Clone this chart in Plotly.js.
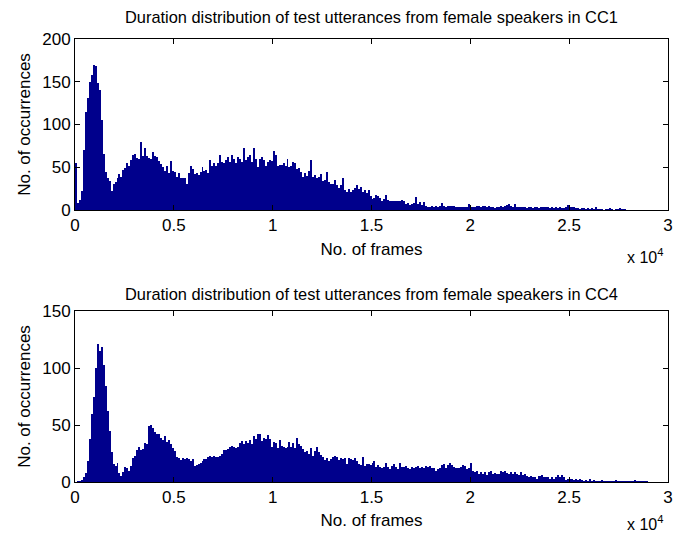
<!DOCTYPE html>
<html><head><meta charset="utf-8">
<script src="https://cdn.plot.ly/plotly-3.0.1.min.js"></script>
<style>html,body{margin:0;padding:0;background:#fff}#chart{width:675px;height:535px}</style>
</head><body><div id="chart"></div>
<script>
// Histogram bins: width 100 frames, starting at 0 frames
const binStart = 0;
const binWidth = 100;

// CC1 female test utterances: occurrences per bin
const cc1Counts = [
55,8,12,22,70,115,131,150,158,170,
168,148,140,105,66,45,37,34,22,31,
33,38,42,39,47,49,55,52,58,64,
66,61,60,80,63,73,63,61,60,68,
63,62,57,54,50,46,51,43,57,46,
45,39,43,37,38,37,31,43,51,48,
42,43,41,45,50,46,47,43,58,51,
55,51,55,64,56,55,58,62,56,64,
60,55,62,60,56,72,58,62,64,56,
72,60,50,60,62,58,52,56,58,57,
69,64,52,53,53,55,52,60,50,51,
56,55,48,49,44,39,43,40,46,58,
39,41,37,39,42,34,35,44,33,31,
30,35,29,26,29,38,23,21,25,21,
23,26,29,24,27,21,23,20,23,16,
13,14,18,16,14,11,13,17,12,10,
11,10,11,10,10,12,11,7,8,6,
7,8,15,7,9,6,9,5,4,4,
5,4,5,4,5,8,5,4,5,5,
5,5,4,4,4,4,3,4,4,7,
4,4,3,5,5,4,5,5,4,5,
3,3,2,3,3,5,4,5,6,7,
5,4,7,4,4,3,3,3,2,3,
3,2,3,3,2,3,3,3,4,3,
2,3,2,3,2,3,2,2,3,6,
4,3,3,2,2,1,2,2,1,2,
1,2,1,3,1,1,1,0,1,1,
2,1,0,1,1,2,1,1,1,0,
0,0,0,0,0,0,0,0,0,0,
0,0,0,0,0,0,0,0,0,0
];

// CC4 female test utterances: occurrences per bin
const cc4Counts = [
0,1,1,2,4,8,18,38,60,75,
100,121,115,118,103,84,62,45,26,16,
14,17,8,5,9,13,12,10,14,21,
23,28,31,28,29,34,33,49,50,47,
44,42,42,39,37,40,35,37,33,30,
27,22,21,19,21,20,21,20,18,20,
14,15,16,17,18,20,20,22,23,22,
23,22,22,23,25,28,28,29,31,32,
31,30,31,34,36,33,36,34,37,33,
40,38,42,42,36,39,38,41,38,31,
35,34,30,37,32,31,30,31,35,31,
34,30,39,33,32,29,26,27,25,30,
23,27,31,26,24,22,19,21,18,20,
22,23,22,19,21,20,21,16,21,20,
19,21,18,16,15,22,14,16,16,15,
17,18,13,15,13,12,13,17,13,11,
14,16,13,11,17,13,13,14,12,11,
13,12,13,14,12,13,12,14,13,14,
12,12,10,11,12,15,16,12,15,17,
15,13,12,12,12,13,15,14,11,12,
17,10,9,10,7,9,7,9,6,9,
10,7,8,7,7,10,9,10,8,7,
9,7,9,7,6,9,6,7,5,4,
5,4,4,3,5,5,6,4,4,4,
3,4,3,4,6,4,6,4,2,3,
3,3,2,3,2,3,2,1,2,1,
3,1,2,1,1,1,2,1,1,1,
1,1,1,2,1,1,1,1,1,1,
1,1,1,2,1,1,1,1,1,1,
0,0,0,0,0,0,0,0,0,0
];

const xTickVals = [0, 5000, 10000, 15000, 20000, 25000, 30000];
const xTickText = ['0', '0.5', '1', '1.5', '2', '2.5', '3'];
const yTickVals1 = [0, 50, 100, 150, 200];
const yTickVals2 = [0, 50, 100, 150];
const titles = [
  'Duration distribution of test utterances from female speakers in CC1',
  'Duration distribution of test utterances from female speakers in CC4'
];
const xLabel = 'No. of frames';
const yLabel = 'No. of occurrences';
const expText = 'x 10<sup>4</sup>';

const FONT = 'Liberation Sans, Arial, Helvetica, sans-serif';
const barColor = 'rgb(0,0,140)';
const W = 675, H = 535;
const px = v => v / W;
const py = v => (H - v) / H;

function barTrace(counts, xa, ya) {
  return {
    type: 'bar', y: counts, x0: binStart + binWidth / 2, dx: binWidth,
    xaxis: xa, yaxis: ya,
    marker: {color: barColor, line: {width: 0}},
    hoverinfo: 'x+y'
  };
}

const font = {family: FONT, size: 17, color: '#000'};
const titleFont = {family: FONT, size: 16.4, color: '#000'};
const expFont = {family: FONT, size: 16, color: '#000'};
const axisBase = {
  showline: true, linecolor: '#000', linewidth: 1, mirror: 'allticks',
  ticks: 'inside', ticklen: 5, tickcolor: '#000', tickwidth: 1,
  showgrid: false, zeroline: false, tickfont: font, automargin: false, fixedrange: true
};

const layout = {
  width: W, height: H,
  margin: {l: 0, r: 0, t: 0, b: 0},
  paper_bgcolor: '#fff', plot_bgcolor: '#fff',
  showlegend: false, bargap: 0,
  font: font,
  xaxis: Object.assign({}, axisBase, {
    domain: [px(75), px(668)], range: [0, 30000], anchor: 'y',
    tickmode: 'array', tickvals: xTickVals, ticktext: xTickText,
    title: {text: xLabel, font: font, standoff: 8}
  }),
  yaxis: Object.assign({}, axisBase, {
    domain: [py(210), py(39)], range: [0, 200], anchor: 'x',
    tickmode: 'array', tickvals: yTickVals1,
    title: {text: yLabel, font: font, standoff: 7}
  }),
  xaxis2: Object.assign({}, axisBase, {
    domain: [px(75), px(668)], range: [0, 30000], anchor: 'y2',
    tickmode: 'array', tickvals: xTickVals, ticktext: xTickText,
    title: {text: xLabel, font: font, standoff: 7}
  }),
  yaxis2: Object.assign({}, axisBase, {
    domain: [py(482), py(311)], range: [0, 150], anchor: 'x2',
    tickmode: 'array', tickvals: yTickVals2,
    title: {text: yLabel, font: font, standoff: 7}
  }),
  annotations: [
    {text: titles[0], xref: 'paper', yref: 'paper', x: px(371.5), y: py(17),
     xanchor: 'center', yanchor: 'middle', showarrow: false, font: titleFont},
    {text: titles[1], xref: 'paper', yref: 'paper', x: px(371.5), y: py(294),
     xanchor: 'center', yanchor: 'middle', showarrow: false, font: titleFont},
    {text: expText, xref: 'paper', yref: 'paper', x: px(665), y: py(256),
     xanchor: 'right', yanchor: 'middle', showarrow: false, font: expFont},
    {text: expText, xref: 'paper', yref: 'paper', x: px(665), y: py(523),
     xanchor: 'right', yanchor: 'middle', showarrow: false, font: expFont}
  ]
};

Plotly.newPlot('chart', [
  barTrace(cc1Counts, 'x', 'y'),
  barTrace(cc4Counts, 'x2', 'y2')
], layout, {staticPlot: true, displayModeBar: false});
</script>
</body></html>
